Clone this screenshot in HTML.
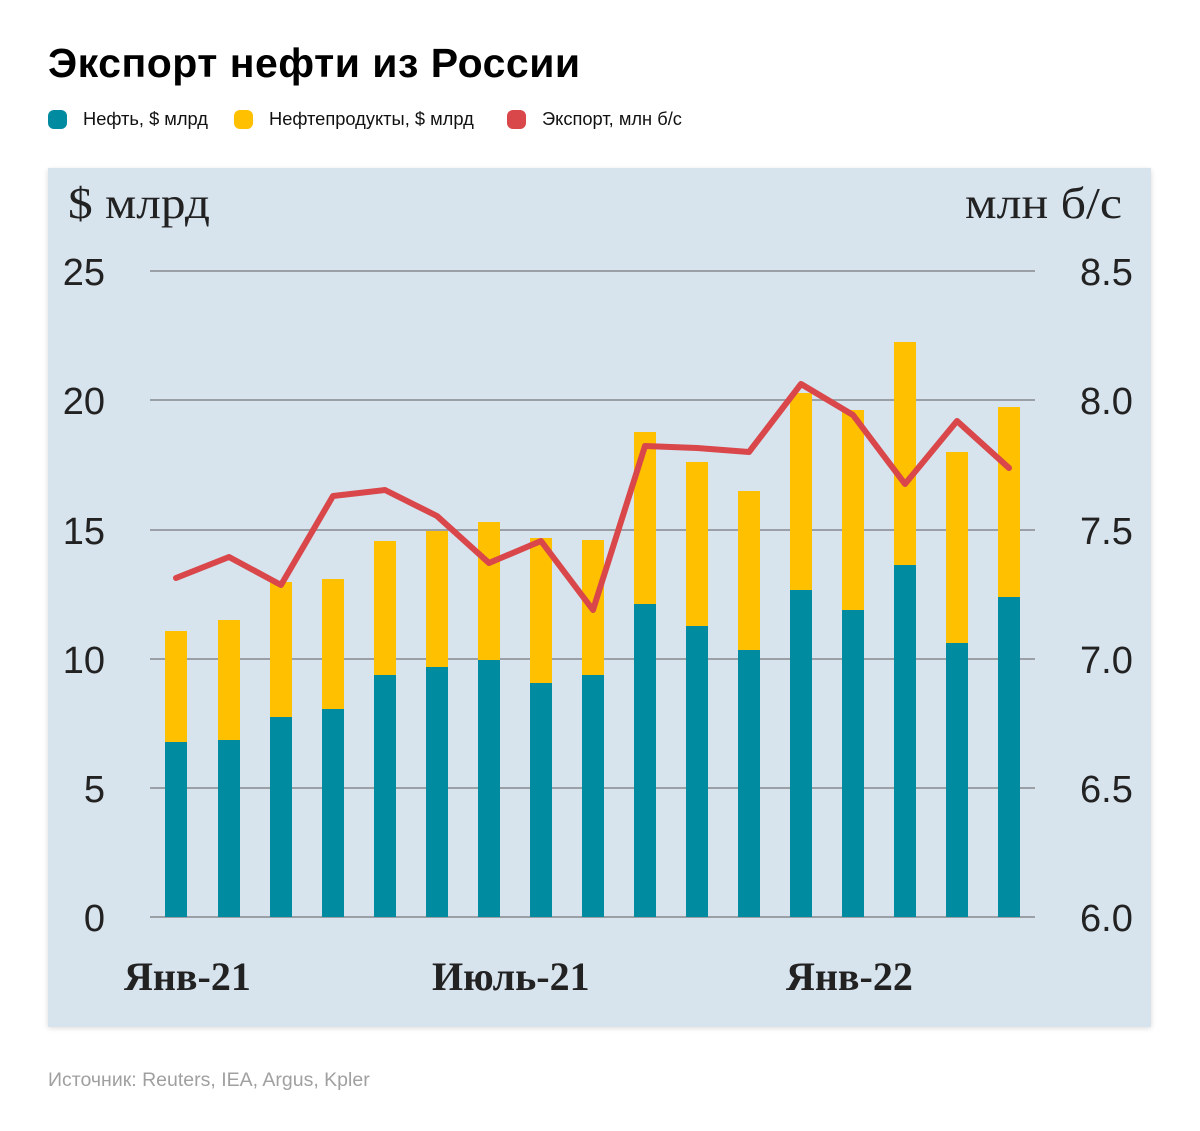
<!DOCTYPE html>
<html><head><meta charset="utf-8"><style>
body{margin:0;width:1200px;height:1131px;background:#fff;font-family:"Liberation Sans","DejaVu Sans",sans-serif;position:relative;overflow:hidden}
.t{position:absolute;left:48px;top:40px;font-size:41px;font-weight:bold;color:#000;letter-spacing:0.5px}
.lg{position:absolute;top:108px;font-size:18.3px;color:#111;display:flex;align-items:center}
.lg i{display:inline-block;width:19px;height:19px;border-radius:6px;margin-right:16px}
.src{position:absolute;left:48px;top:1069px;font-size:19.5px;color:#a0a0a0}
</style></head><body>
<div class="t">Экспорт нефти из России</div>
<div class="lg" style="left:48px"><i style="background:#008ba0"></i>Нефть, $ млрд</div>
<div class="lg" style="left:234px"><i style="background:#ffc000"></i>Нефтепродукты, $ млрд</div>
<div class="lg" style="left:507px"><i style="background:#d9474a"></i>Экспорт, млн б/с</div>
<svg style="position:absolute;left:0;top:0" width="1200" height="1131">
<defs><filter id="s" x="-5%" y="-5%" width="110%" height="110%"><feGaussianBlur stdDeviation="3"/></filter></defs>
<rect x="48" y="170" width="1103" height="858" fill="#000" opacity="0.15" filter="url(#s)"/>
<rect x="48" y="168" width="1103" height="859" fill="#d7e3ed"/>
<g stroke="#9aa0a6" stroke-width="2">
<line x1="150" x2="1035" y1="271" y2="271"/><line x1="150" x2="1035" y1="400" y2="400"/>
<line x1="150" x2="1035" y1="530" y2="530"/><line x1="150" x2="1035" y1="659" y2="659"/>
<line x1="150" x2="1035" y1="788" y2="788"/><line x1="150" x2="1035" y1="917" y2="917"/>
</g>
<g id="bars"></g>
<polyline fill="none" stroke="#d9474a" stroke-width="6" stroke-linejoin="round" stroke-linecap="round" points="176,578 229,557 281,585 333,496 385,490 437,516 489,563 541,541 593,610 645,446 697,448 749,452 801,384 853,415 905,484 957,421 1009,468"/>
<g font-family="Liberation Sans, sans-serif" font-size="38" fill="#222">
<g text-anchor="end"><text x="105" y="285">25</text><text x="105" y="414">20</text><text x="105" y="544">15</text><text x="105" y="673">10</text><text x="105" y="802">5</text><text x="105" y="931">0</text></g>
<text x="1080" y="285">8.5</text><text x="1080" y="414">8.0</text><text x="1080" y="544">7.5</text><text x="1080" y="673">7.0</text><text x="1080" y="802">6.5</text><text x="1080" y="931">6.0</text>
</g>
<g font-family="Liberation Serif, serif" font-size="44" fill="#222">
<text x="68" y="218" textLength="142" lengthAdjust="spacingAndGlyphs">$ млрд</text><text x="965" y="218" textLength="157" lengthAdjust="spacingAndGlyphs">млн б/с</text>
</g>
<g font-family="Liberation Serif, serif" font-size="40" font-weight="bold" fill="#222">
<text x="124" y="990">Янв-21</text><text x="432" y="990">Июль-21</text><text x="786" y="990">Янв-22</text>
</g>
</svg>
<script>
var c=[176,229,281,333,385,437,489,541,593,645,697,749,801,853,905,957,1009];
var t=[742,740,717,709,675,667,660,683,675,604,626,650,590,610,565,643,597];
var o=[631,620,582,579,541,531,522,538,540,432,462,491,393,410,342,452,407];
var g=document.getElementById('bars'),h='';
for(var i=0;i<17;i++){h+='<rect x="'+(c[i]-11)+'" y="'+o[i]+'" width="22" height="'+(t[i]-o[i])+'" fill="#ffc000"/><rect x="'+(c[i]-11)+'" y="'+t[i]+'" width="22" height="'+(917-t[i])+'" fill="#008ba0"/>';}
g.innerHTML=h;
</script>
<div class="src">Источник: Reuters, IEA, Argus, Kpler</div>
</body></html>
